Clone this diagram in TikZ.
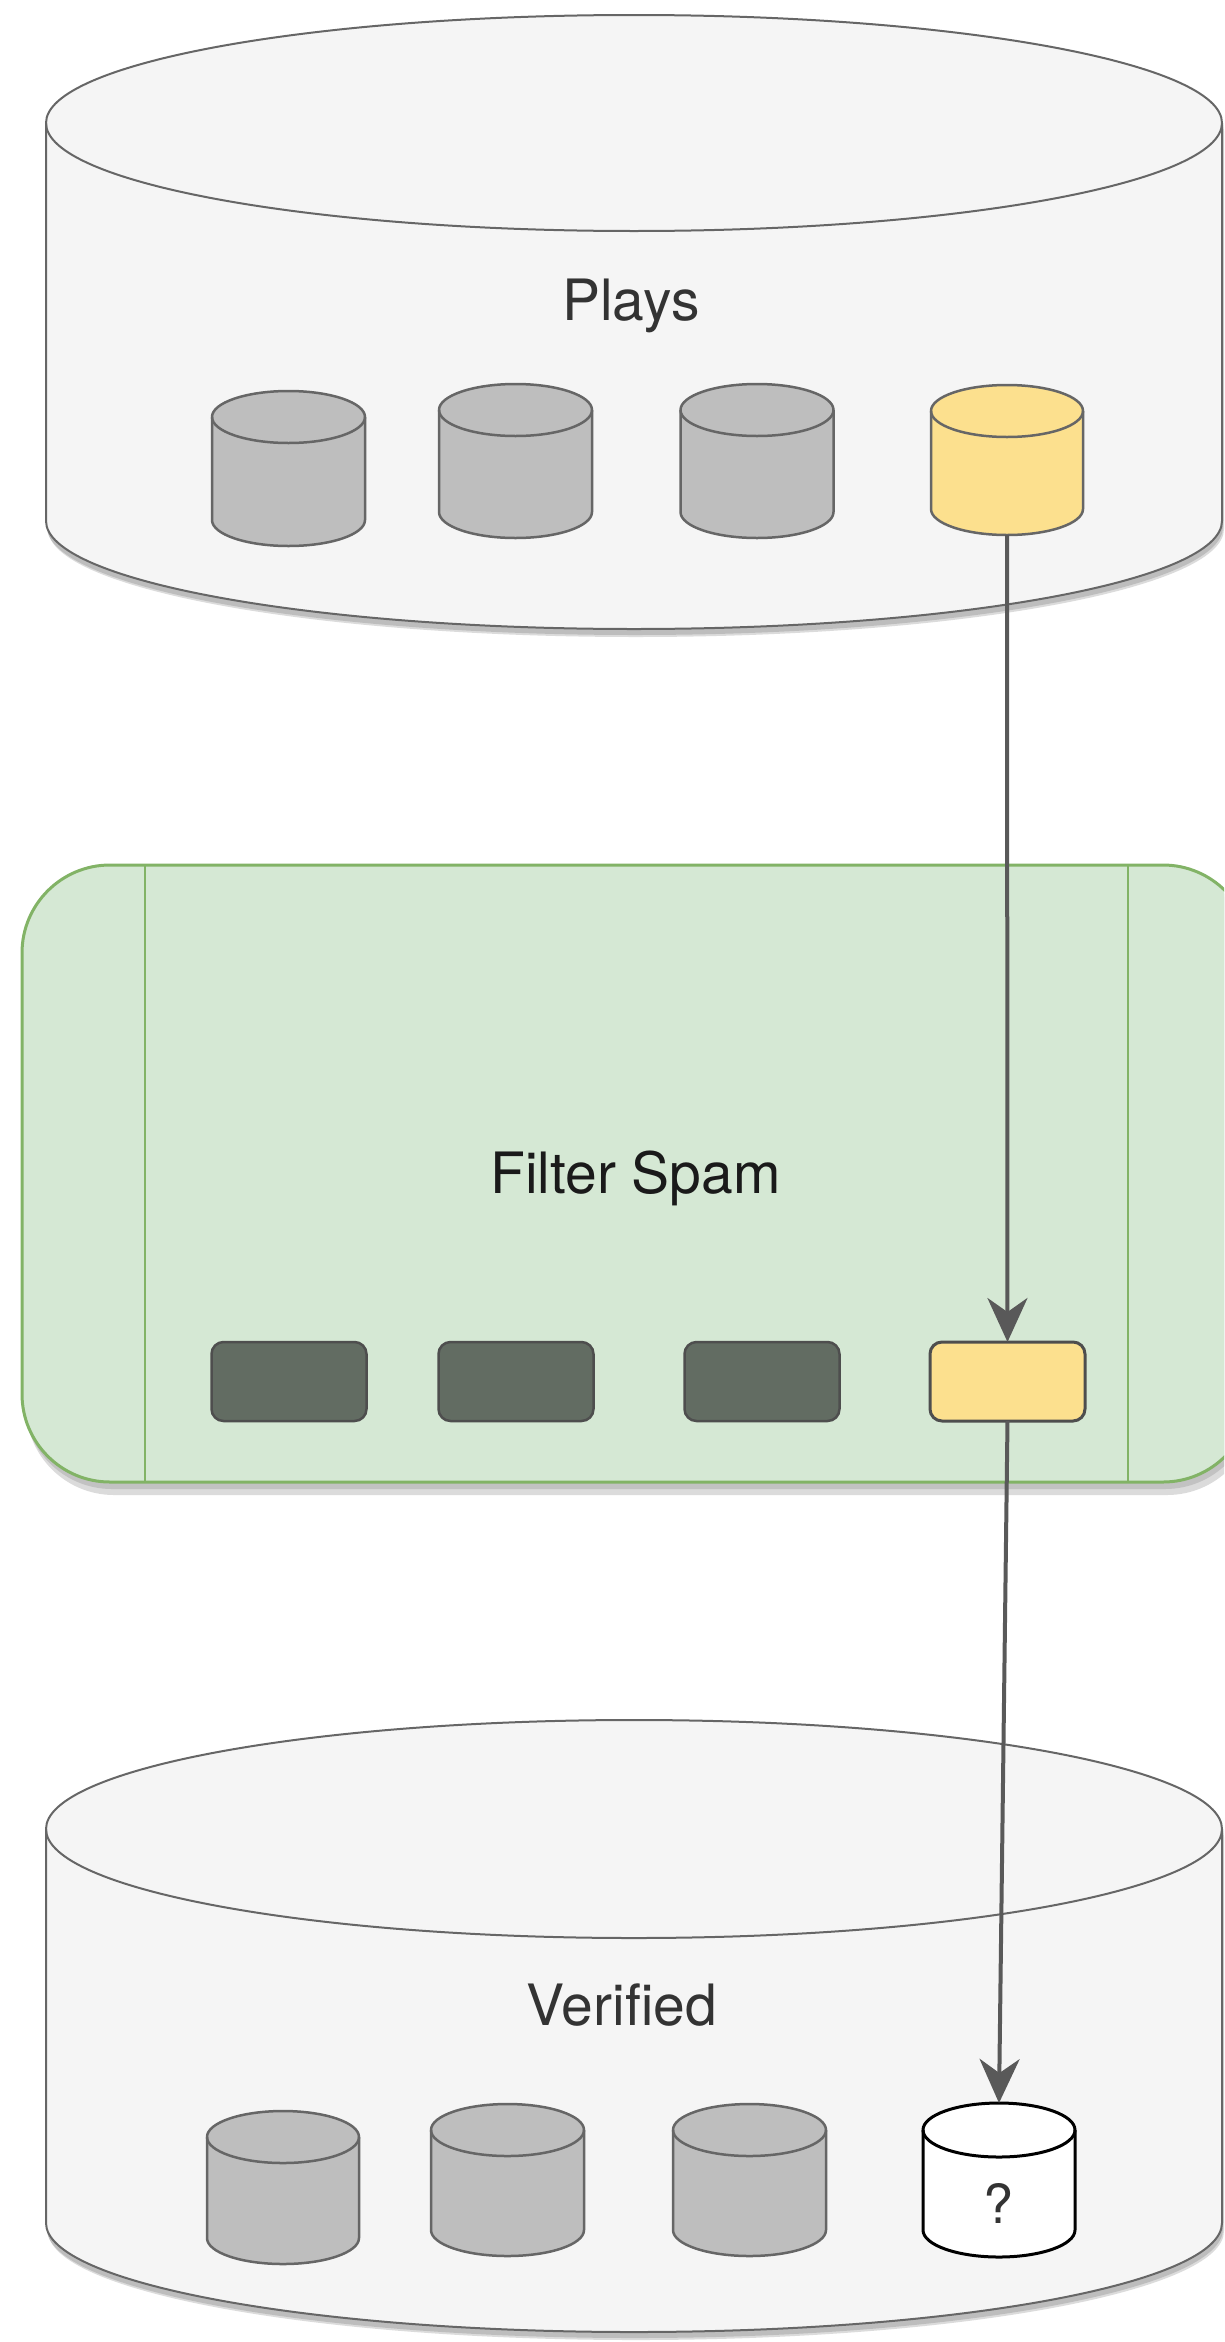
\documentclass[tikz,border=0pt]{standalone}
\usepackage{fontspec}
\setmainfont{TeX Gyre Heros}
\usetikzlibrary{arrows.meta}
\definecolor{bigfill}{HTML}{F5F5F5}
\definecolor{bigstroke}{HTML}{666666}
\definecolor{grayfill}{HTML}{BEBEBE}
\definecolor{yelfill}{HTML}{FCE08E}
\definecolor{gfill}{HTML}{D5E8D4}
\definecolor{gstroke}{HTML}{82B366}
\definecolor{darkfill}{HTML}{626C62}
\definecolor{darkstroke}{HTML}{4E4E4E}
\definecolor{arrowc}{HTML}{595959}
\definecolor{txtgray}{HTML}{333333}
\definecolor{txtdark}{HTML}{1A1A1A}
\newcommand\cylshape[6]{%
  \path[#6] ({#1-#3/2},{#2+#5}) -- ({#1-#3/2},{#2+#4-#5})
    arc[start angle=180,end angle=0,x radius={#3/2},y radius={#5}]
    -- ({#1+#3/2},{#2+#5})
    arc[start angle=0,end angle=-180,x radius={#3/2},y radius={#5}] -- cycle;
  \path[#6,fill=none] ({#1-#3/2},{#2+#5})
    arc[start angle=180,end angle=0,x radius={#3/2},y radius={#5}];
}
\newcommand\cylitem[7]{%
  \cylshape{#2}{#3}{#4}{#5}{#6}{#7}
  \node[anchorbox, minimum width=#4pt, minimum height=#5pt] (#1) at ({#2},{#3+#5/2}) {};
}
\tikzset{
  anchorbox/.style={inner sep=0pt, outer sep=0pt, draw=none, rectangle},
  bigcyl/.style={fill=bigfill, draw=bigstroke, line width=2pt},
  shadowA/.style={fill=black!14, draw=none},
  shadowB/.style={fill=black!26, draw=none},
  graycyl/.style={fill=grayfill, draw=bigstroke, line width=2.5pt},
  yelcyl/.style={fill=yelfill, draw=bigstroke, line width=2.5pt},
  whitecyl/.style={fill=white, draw=black, line width=3pt},
  darkbox/.style={anchorbox, fill=darkfill, draw=darkstroke, line width=2.5pt, rounded corners=12pt, minimum width=155pt, minimum height=79pt},
  yelbox/.style={anchorbox, fill=yelfill, draw=darkstroke, line width=3pt, rounded corners=12pt, minimum width=155pt, minimum height=79pt},
  procbox/.style={anchorbox, fill=gfill, draw=gstroke, line width=3pt, rounded corners=88pt},
  procline/.style={draw=gstroke, line width=2.5pt},
  lbl/.style={inner sep=0pt, font=\fontsize{57}{68}\selectfont},
  flow/.style={draw=arrowc, line width=4pt, -{Stealth[length=44pt,width=40pt,inset=14pt]}},
}
\begin{document}
\begin{tikzpicture}[x=1pt,y=-1pt]
\useasboundingbox (0,0) rectangle (1224,2342);
\clip (0,0) rectangle (1224,2342);
% ---------- Plays ----------
\cylshape{636}{23}{1176}{614}{108}{shadowA}
\cylshape{635}{21}{1176}{614}{108}{shadowB}
\cylitem{plays}{634}{15}{1176}{614}{108}{bigcyl}
\node[lbl, text=txtgray, anchor=base] (playslbl) at (631,320) {Plays};
\cylitem{p1}{288.5}{391}{153}{155}{26}{graycyl}
\cylitem{p2}{515.5}{384}{153}{154}{26}{graycyl}
\cylitem{p3}{757}{384}{153}{154}{26}{graycyl}
\cylitem{p4}{1007}{385}{152}{150}{26}{yelcyl}
% ---------- Filter Spam ----------
\fill[black!14, rounded corners=88pt] (26,876) rectangle (1255,1495);
\fill[black!24, rounded corners=88pt] (24,871) rectangle (1253,1489);
\node[procbox, minimum width=1229pt, minimum height=617pt] (filter) at (636.5,1173.5) {};
\draw[procline] (145,865) -- (145,1482);
\draw[procline] (1128,865) -- (1128,1482);
\node[lbl, text=txtdark, anchor=base] (filterlbl) at (635.5,1193) {Filter Spam};
\node[darkbox] (r1) at (289,1381.5) {};
\node[darkbox] (r2) at (516,1381.5) {};
\node[darkbox] (r3) at (762,1381.5) {};
\node[yelbox] (r4) at (1007.5,1381.5) {};
% ---------- Verified ----------
\cylshape{636}{1728}{1176}{612}{109}{shadowA}
\cylshape{635}{1726}{1176}{612}{109}{shadowB}
\cylitem{verified}{634}{1720}{1176}{612}{109}{bigcyl}
\node[lbl, text=txtgray, anchor=base] (verifiedlbl) at (622,2025) {Verified};
\cylitem{v1}{283}{2111}{152}{153}{26}{graycyl}
\cylitem{v2}{507.5}{2104}{153}{152}{26}{graycyl}
\cylitem{v3}{749.5}{2104}{153}{152}{26}{graycyl}
\cylitem{v4}{999}{2103}{152}{154}{27}{whitecyl}
\node[lbl, text=txtgray, anchor=base, font=\fontsize{54}{64}\selectfont] (qlbl) at (998,2223) {?};
% ---------- connectors ----------
\draw[flow] (p4.south) -- (r4.north);
\draw[flow] (r4.south) -- (v4.north);
\end{tikzpicture}
\end{document}
